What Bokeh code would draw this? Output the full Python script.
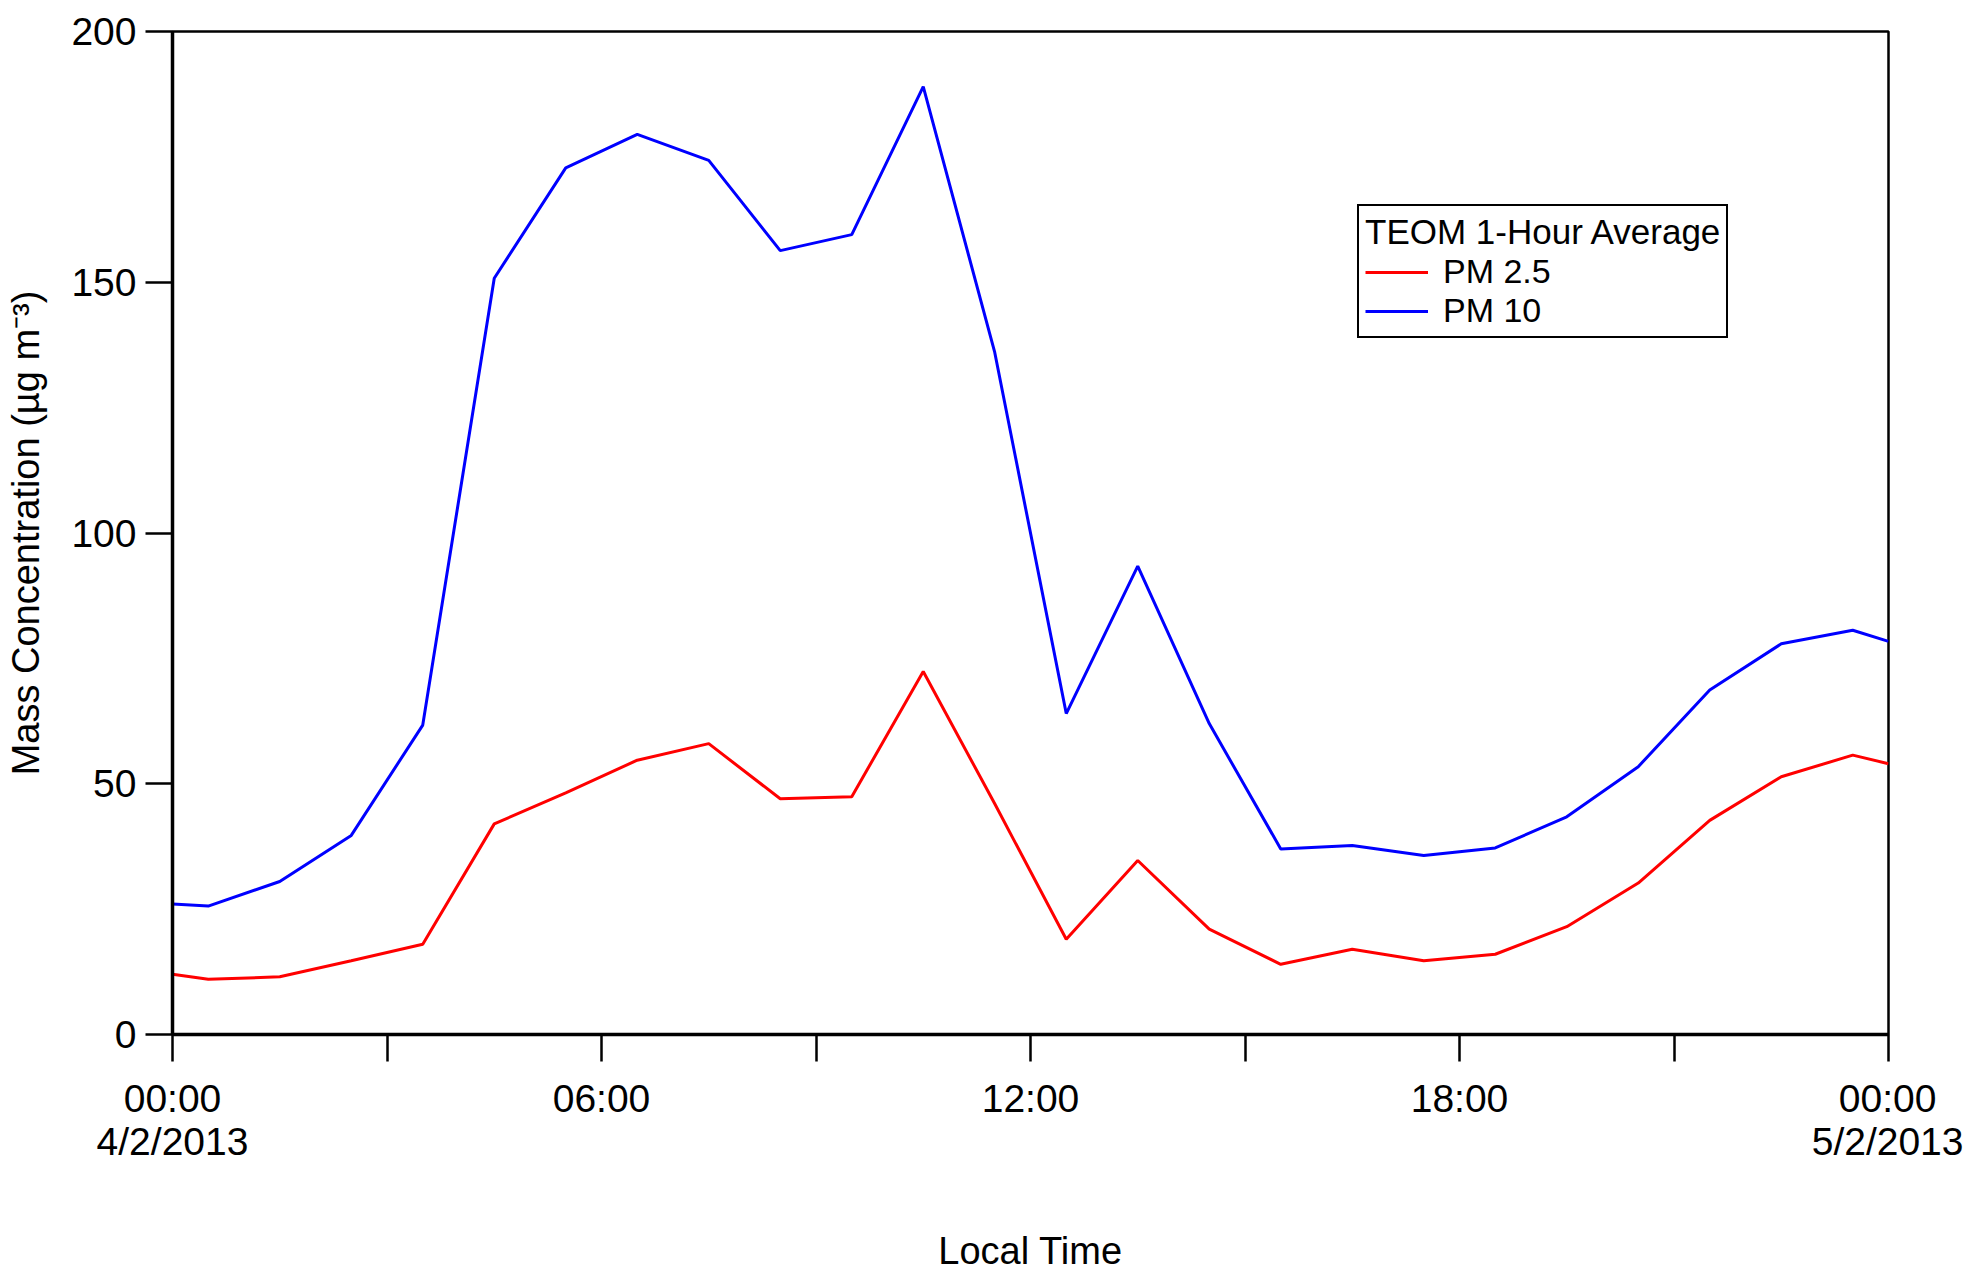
from bokeh.plotting import figure
from bokeh.models import Range1d, FixedTicker, Legend, LegendItem
from bokeh.embed import file_html
from bokeh.resources import INLINE

# Hours after 00:00 on 4/2/2013 (hourly averages plotted at half-hours)
hours = [0, 0.5, 1.5, 2.5, 3.5, 4.5, 5.5, 6.5, 7.5, 8.5, 9.5, 10.5, 11.5,
         12.5, 13.5, 14.5, 15.5, 16.5, 17.5, 18.5, 19.5, 20.5, 21.5, 22.5, 23.5, 24]
pm25 = [12, 11, 11.5, 14.7, 18, 42, 48.2, 54.7, 58, 47, 47.4, 72.4, 46,
        19, 34.7, 21, 14, 17, 14.7, 16, 21.5, 30.2, 42.7, 51.4, 55.7, 54]
pm10 = [26, 25.6, 30.5, 39.7, 61.7, 150.8, 172.8, 179.5, 174.3, 156.3, 159.5, 189, 136,
        64, 93.4, 62, 37, 37.7, 35.7, 37.2, 43.4, 53.4, 68.7, 77.9, 80.6, 78.4]

x_ticks = [0, 3, 6, 9, 12, 15, 18, 21, 24]
x_tick_labels = ["00:00\n4/2/2013", "", "06:00", "", "12:00", "", "18:00", "", "00:00\n5/2/2013"]
y_ticks = [0, 50, 100, 150, 200]
y_title = "Mass Concentration (µg m⁻³)"

FONT = "Liberation Sans"

p = figure(width=1963, height=1275, output_backend="svg", toolbar_location=None,
           x_range=Range1d(0, 24), y_range=Range1d(0, 200),
           min_border_left=172, min_border_right=75, min_border_top=31, min_border_bottom=241)

r25 = p.line(hours, pm25, line_color="#FF0000", line_width=3)
r10 = p.line(hours, pm10, line_color="#0000FF", line_width=3)

p.grid.visible = False
p.outline_line_color = "black"
p.outline_line_width = 2.5
p.outline_line_alpha = 1
p.background_fill_color = "white"
p.border_fill_color = "white"

for ax in (p.xaxis[0], p.yaxis[0]):
    ax.axis_line_width = 3.5
    ax.axis_line_color = "black"
    ax.major_tick_line_width = 2.5
    ax.major_tick_line_color = "black"
    ax.major_tick_out = 27
    ax.major_tick_in = 0
    ax.minor_tick_out = 0
    ax.minor_tick_in = 0
    ax.major_label_text_font = FONT
    ax.major_label_text_font_size = "39px"
    ax.major_label_text_color = "black"
    ax.axis_label_text_font = FONT
    ax.axis_label_text_font_style = "normal"
    ax.axis_label_text_color = "black"

p.xaxis.ticker = FixedTicker(ticks=x_ticks)
p.xaxis.major_label_overrides = {t: lab for t, lab in zip(x_ticks, x_tick_labels)}
p.xaxis.major_label_standoff = 15
p.xaxis.major_label_text_line_height = 1.0
p.xaxis.axis_label = "Local Time"
p.xaxis.axis_label_text_font_size = "38px"
p.xaxis.axis_label_standoff = 64

p.yaxis.ticker = FixedTicker(ticks=y_ticks)
p.yaxis.major_label_standoff = 9
p.yaxis.axis_label = y_title
p.yaxis.axis_label_text_font_size = "38px"
p.yaxis.axis_label_standoff = 21

legend = Legend(items=[LegendItem(label="PM 2.5", renderers=[r25]),
                       LegendItem(label="PM 10", renderers=[r10])],
                location=(1185, 696), title="TEOM 1-Hour Average")
legend.title_text_font = FONT
legend.title_text_font_size = "35px"
legend.title_text_font_style = "normal"
legend.title_text_color = "black"
legend.title_standoff = -5
legend.label_text_font = FONT
legend.label_text_font_size = "34px"
legend.label_text_color = "black"
legend.label_standoff = 15
legend.glyph_width = 63
legend.glyph_height = 34
legend.label_height = 34
legend.spacing = 0
legend.padding = 6
legend.margin = 0
legend.border_line_color = "black"
legend.border_line_width = 2
legend.border_line_alpha = 1
legend.background_fill_alpha = 1
p.add_layout(legend, "center")

open("out.html", "w").write(file_html(p, INLINE))
